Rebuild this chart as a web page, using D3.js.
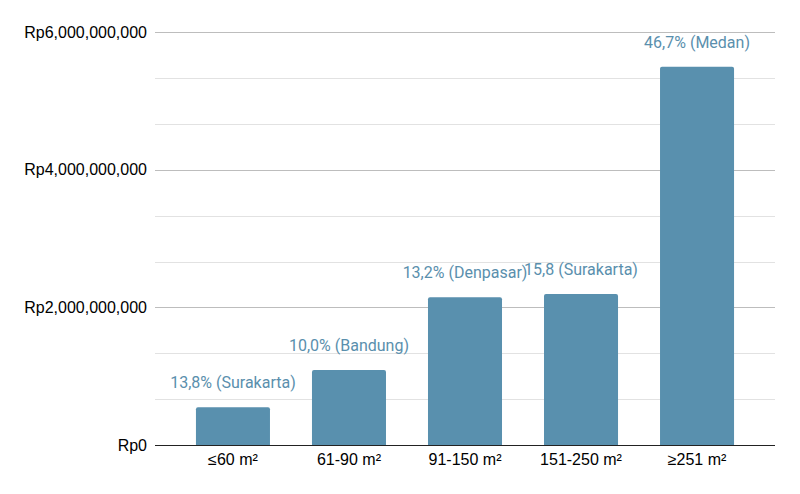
<!DOCTYPE html>
<html>
<head>
<meta charset="utf-8">
<script src="https://cdn.jsdelivr.net/npm/d3@7"></script>
<style>
    body { margin: 0; background: #fff; }
    .tick-lbl { font-family: "Liberation Sans", Arial, sans-serif; font-size: 16px; fill: #000; }
    .bar-lbl { font-family: Roboto, sans-serif; font-size: 16px; fill: #5a8fad; }
</style>
</head>
<body>
<div id="chart"></div>
<script>
var svgWidth = 800;
var svgHeight = 494;

// data
var categories = ["≤60 m²", "61-90 m²", "91-150 m²", "151-250 m²", "≥251 m²"];
var prices = [548000000, 1090000000, 2147000000, 2195000000, 5500000000];
var barLabels = ["13,8% (Surakarta)", "10,0% (Bandung)", "13,2% (Denpasar)", "15,8 (Surakarta)", "46,7% (Medan)"];
var yTicks = [0, 2000000000, 4000000000, 6000000000];
var yTickLabels = ["Rp0", "Rp2,000,000,000", "Rp4,000,000,000", "Rp6,000,000,000"];

var plotLeft = 155, plotRight = 775, plotTop = 32.3, plotBottom = 445;

var svg = d3.select("#chart")
    .append("svg")
    .attr("width", svgWidth)
    .attr("height", svgHeight);

var x = d3.scaleBand()
    .domain(categories)
    .range([plotLeft, plotRight])
    .paddingInner(0.362)
    .paddingOuter(0.353);

var y = d3.scaleLinear()
    .domain([0, 6000000000])
    .range([plotBottom, plotTop]);

// minor gridlines (3 per major step)
var minorTicks = d3.range(0, 10).map(i => i * 6000000000 / 9).filter((v, i) => i % 3 !== 0);
svg.append("g").selectAll("line")
    .data(minorTicks)
    .enter()
    .append("line")
    .attr("x1", plotLeft)
    .attr("x2", plotRight)
    .attr("y1", d => Math.round(y(d)) + 0.5)
    .attr("y2", d => Math.round(y(d)) + 0.5)
    .attr("stroke", "#e2e2e2");

// major gridlines
svg.append("g").selectAll("line")
    .data(yTicks.slice(1))
    .enter()
    .append("line")
    .attr("x1", plotLeft)
    .attr("x2", plotRight)
    .attr("y1", d => Math.round(y(d)) + 0.5)
    .attr("y2", d => Math.round(y(d)) + 0.5)
    .attr("stroke", "#bdbdbd");

// y tick labels
svg.append("g").selectAll("text")
    .data(yTicks)
    .enter()
    .append("text")
    .classed("tick-lbl", true)
    .attr("x", 147)
    .attr("y", d => y(d))
    .attr("dy", "0.35em")
    .attr("text-anchor", "end")
    .text((d, i) => yTickLabels[i]);

// bars with rounded tops
var r = 2;
svg.append("g").selectAll("path")
    .data(prices)
    .enter()
    .append("path")
    .attr("fill", "#5990ae")
    .attr("d", (d, i) => {
        var x0 = x(categories[i]), w = x.bandwidth(), y0 = y(d), y1 = y(0);
        return `M${x0},${y1}V${y0 + r}Q${x0},${y0} ${x0 + r},${y0}H${x0 + w - r}Q${x0 + w},${y0} ${x0 + w},${y0 + r}V${y1}Z`;
    });

// bar labels
svg.append("g").selectAll("text")
    .data(prices)
    .enter()
    .append("text")
    .classed("bar-lbl", true)
    .attr("x", (d, i) => x(categories[i]) + x.bandwidth() / 2)
    .attr("y", d => y(d) - 19)
    .attr("text-anchor", "middle")
    .text((d, i) => barLabels[i]);

// baseline
svg.append("line")
    .attr("x1", plotLeft)
    .attr("x2", plotRight)
    .attr("y1", plotBottom + 0.5)
    .attr("y2", plotBottom + 0.5)
    .attr("stroke", "#222");

// x axis labels
svg.append("g").selectAll("text")
    .data(categories)
    .enter()
    .append("text")
    .classed("tick-lbl", true)
    .attr("x", d => x(d) + x.bandwidth() / 2)
    .attr("y", 465)
    .attr("text-anchor", "middle")
    .text(d => d);
</script>
</body>
</html>
